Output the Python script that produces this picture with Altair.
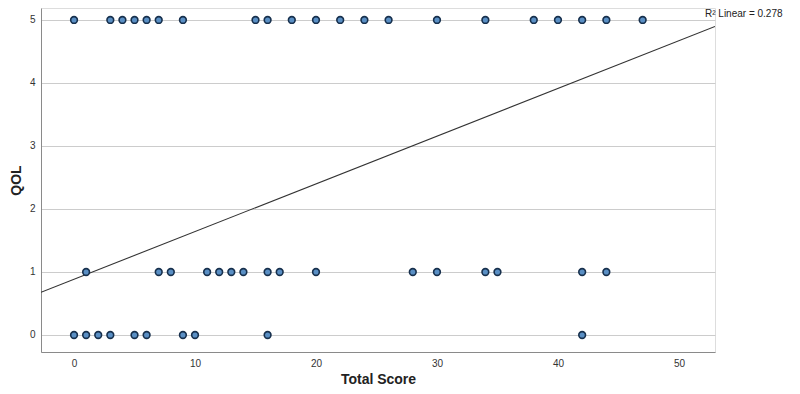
import altair as alt
import pandas as pd

# Scatter data (Total Score values per QOL level)
qol5_scores = [0, 3, 4, 5, 6, 7, 9, 15, 16, 18, 20, 22, 24, 26, 30, 34, 38, 40, 42, 44, 47]
qol1_scores = [1, 7, 8, 11, 12, 13, 14, 16, 17, 20, 28, 30, 34, 35, 42, 44]
qol0_scores = [0, 1, 2, 3, 5, 6, 9, 10, 16, 42]

# Linear fit line endpoints
fit_x = [-2.73, 52.98]
fit_y = [0.678, 4.896]

x_ticks = [0, 10, 20, 30, 40, 50]
y_ticks = [0, 1, 2, 3, 4, 5]
x_domain = [-2.73, 52.98]
y_domain = [-0.27, 5.19]
r2_label = "R\u00b2 Linear = 0.278"

rows = []
for q, xs in ((5, qol5_scores), (1, qol1_scores), (0, qol0_scores)):
    for v in xs:
        rows.append({"score": v, "qol": q})
pts = pd.DataFrame(rows)
fit = pd.DataFrame({"score": fit_x, "qol": fit_y})
lab = pd.DataFrame({"score": [x_domain[1]], "qol": [y_domain[1]], "t": [r2_label]})

xs = alt.Scale(domain=x_domain, nice=False, zero=False)
ys = alt.Scale(domain=y_domain, nice=False, zero=False)

x_axis = alt.Axis(values=x_ticks, format="d", grid=False, ticks=False, labelPadding=6,
                  labelFontSize=10, labelColor="#333333", labelFont="Liberation Sans",
                  domainColor="#8a8a8a", title="Total Score", titleFontSize=14,
                  titleFont="Liberation Sans", titleFontWeight="bold", titleColor="#222222",
                  titlePadding=4)
y_axis = alt.Axis(values=y_ticks, format="d", grid=True, gridColor="#cccccc", ticks=False,
                  labelPadding=6, labelFontSize=10, labelColor="#333333",
                  labelFont="Liberation Sans", domainColor="#8a8a8a", title="QOL",
                  titleFontSize=14, titleFont="Liberation Sans", titleFontWeight="bold",
                  titleColor="#222222", titlePadding=6)

points = alt.Chart(pts).mark_point(
    filled=True, shape="circle", size=45, fill="#5a8fc4", stroke="#17304d",
    strokeWidth=1.6, opacity=1
).encode(
    x=alt.X("score:Q", scale=xs, axis=x_axis),
    y=alt.Y("qol:Q", scale=ys, axis=y_axis),
)

line = alt.Chart(fit).mark_line(color="#333333", strokeWidth=1.1, clip=True).encode(
    x=alt.X("score:Q", scale=xs),
    y=alt.Y("qol:Q", scale=ys),
)

text = alt.Chart(lab).mark_text(
    align="left", baseline="middle", dx=-10, dy=6, fontSize=10,
    font="Liberation Sans", color="#222222"
).encode(
    x=alt.X("score:Q", scale=xs),
    y=alt.Y("qol:Q", scale=ys),
    text="t:N",
)

chart = alt.layer(line, points, text).properties(
    width=674, height=344,
    autosize=alt.AutoSizeParams(type="none"),
    padding={"left": 33, "top": 0, "right": 77, "bottom": 34},
).configure_view(stroke=None).configure(background="white")

chart.save("out.html", embed_options={"renderer": "svg", "actions": False})
